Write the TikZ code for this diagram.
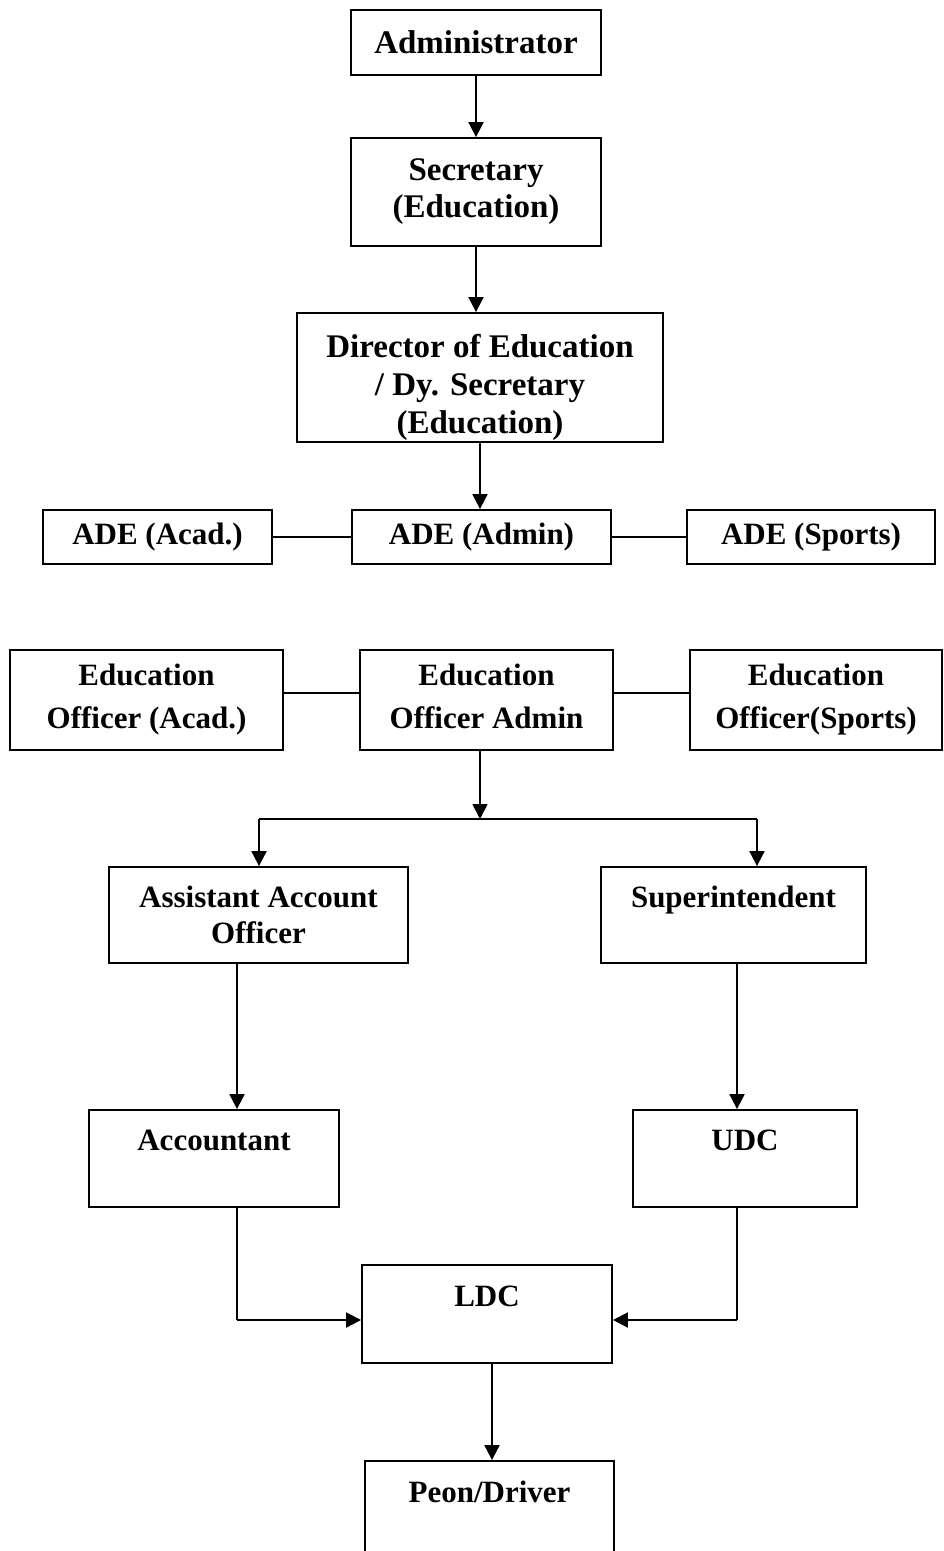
\documentclass[tikz,border=0pt]{standalone}
\usepackage{fontspec}
\setmainfont{Liberation Serif}
\usetikzlibrary{arrows.meta}
\begin{document}
\begin{tikzpicture}[x=1pt,y=-1pt,
  box/.style={draw, line width=1.8pt, inner sep=0pt, align=center, font=\bfseries\fontsize{31}{36}\selectfont},
  big/.style={font=\bfseries\fontsize{33}{37}\selectfont},
  dirfont/.style={font=\bfseries\fontsize{33}{38}\selectfont},
  wide/.style={font=\bfseries\fontsize{31}{43}\selectfont},
  arr/.style={line width=1.8pt, -{Triangle[width=15pt,length=15pt]}},
  ln/.style={line width=1.8pt}]
\useasboundingbox (0,0) rectangle (943,1551);
\clip (0,0) rectangle (943,1551);
\node[box,big,minimum width=250,minimum height=65] (admin) at (476,42.5) {Administrator};
\node[box,big,minimum width=250,minimum height=108] (sec) at (476,192) {Secretary\\(Education)};
\node[box,dirfont,minimum width=366,minimum height=129] (dir) at (480,377.5) {\rule{0pt}{44pt}Director of Education\\/ Dy. Secretary\\(Education)};
\node[box,minimum width=229,minimum height=54] (adeA) at (157.5,537) {ADE (Acad.)};
\node[box,minimum width=259,minimum height=54] (adeM) at (481.5,537) {ADE (Admin)};
\node[box,minimum width=248,minimum height=54] (adeS) at (811,537) {ADE (Sports)};
\node[box,wide,minimum width=273,minimum height=100] (eoA) at (146.5,700) {Education\\Officer (Acad.)};
\node[box,wide,minimum width=253,minimum height=100] (eoM) at (486.5,700) {Education\\Officer Admin\vphantom{()}};
\node[box,wide,minimum width=252,minimum height=100] (eoS) at (816,700) {Education\\Officer(Sports)};
\node[box,minimum width=299,minimum height=96] (aao) at (258.5,915) {Assistant Account\\Officer};
\node[box,minimum width=265,minimum height=96] (sup) at (733.5,915) {Superintendent\\~};
\node[box,minimum width=250,minimum height=97] (acc) at (214,1158.5) {Accountant\\~};
\node[box,minimum width=224,minimum height=97] (udc) at (745,1158.5) {UDC\\~};
\node[box,minimum width=250,minimum height=98] (ldc) at (487,1314) {LDC\\~};
\node[box,minimum width=249,minimum height=98] (peon) at (489.5,1510) {Peon/Driver\\~};
% connectors
\draw[arr] (admin) -- (sec);
\draw[arr] (sec.south) -- (sec.south |- dir.north);
\draw[arr] (dir.south) -- (dir.south |- adeM.north);
\draw[ln] (adeA) -- (adeM);
\draw[ln] (adeM) -- (adeS);
\draw[ln] ([yshift=7pt]eoA.east) -- ([yshift=7pt]eoM.west);
\draw[ln] ([yshift=7pt]eoM.east) -- ([yshift=7pt]eoS.west);
\coordinate (j) at (480,819);
\coordinate (jl) at (259,819);
\coordinate (jr) at (757,819);
\draw[arr] (eoM.south -| j) -- (j);
\draw[ln] (jl) -- (jr);
\draw[arr] (jl) -- (jl |- aao.north);
\draw[arr] (jr) -- (jr |- sup.north);
\coordinate (ax) at (237,1000);
\coordinate (ux) at (737,1000);
\draw[arr] (aao.south -| ax) -- (acc.north -| ax);
\draw[arr] (sup.south -| ux) -- (udc.north -| ux);
\coordinate (bl) at (237,1320);
\coordinate (br) at (737,1320);
\draw[ln] (acc.south -| bl) -- (bl);
\draw[arr] (bl) -- (bl -| ldc.west);
\draw[ln] (udc.south -| br) -- (br);
\draw[arr] (br) -- (br -| ldc.east);
\coordinate (px) at (492,1400);
\draw[arr] (ldc.south -| px) -- (peon.north -| px);
\end{tikzpicture}
\end{document}
